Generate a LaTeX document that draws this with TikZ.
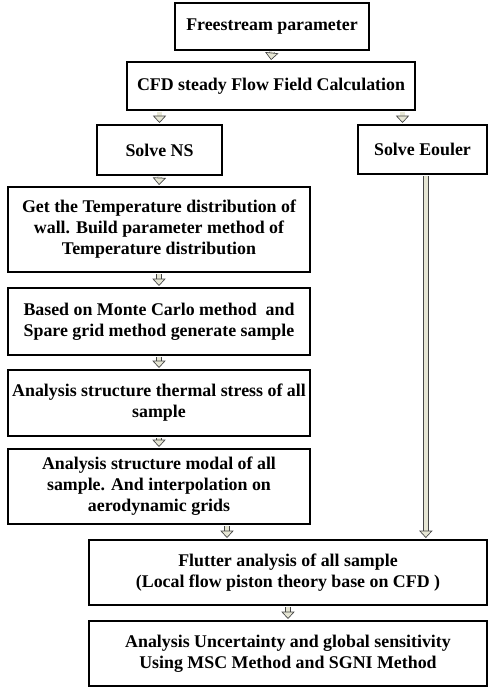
\documentclass[tikz,border=0pt]{standalone}
\usepackage{fontspec}
\setmainfont{Liberation Serif}
\usetikzlibrary{arrows.meta}
\definecolor{arrowfill}{RGB}{230,230,212}
\definecolor{arrowline}{RGB}{70,70,70}
\tikzset{every picture/.style={line width=0.75pt}}
\tikzset{
  flowbox/.style={draw=black, line width=1.5pt, align=center, inner sep=0pt,
    font=\fontsize{13.4}{15.75}\selectfont\bfseries},
  flowarrow/.style={draw=arrowline, line width=0.5pt, double=arrowfill, double distance=3.2pt,
    shorten <=0.75pt, shorten >=0.75pt,
    -{Triangle[length=5.5pt, width=10pt, fill=arrowfill, line width=0.5pt]}}
}
\begin{document}
\begin{tikzpicture}[x=0.75pt,y=0.75pt,yscale=-1,xscale=1]
\useasboundingbox (0,0) rectangle (488,688);

%Boxes
\node[flowbox, minimum width=145.5pt, minimum height=35.25pt] (free) at (272,26.5) {Freestream parameter};
\node[flowbox, minimum width=216pt, minimum height=36pt] (cfd) at (271,86) {CFD steady Flow Field Calculation};
\node[flowbox, minimum width=93.75pt, minimum height=37.5pt] (ns) at (159.5,150) {Solve NS};
\node[flowbox, minimum width=96.75pt, minimum height=36.75pt] (euler) at (422.5,149.5) {Solve Eouler};
\node[flowbox, minimum width=226.5pt, minimum height=63.75pt] (temp) at (159,229.5) {Get the Temperature distribution of\\wall. Build parameter method of\\Temperature distribution};
\node[flowbox, minimum width=226.5pt, minimum height=50.25pt] (sample) at (159,321.5) {Based on Monte Carlo method\ \ and\\Spare grid method generate sample};
\node[flowbox, minimum width=226.5pt, minimum height=49.5pt] (stress) at (159,403) {Analysis structure thermal stress of all\\sample};
\node[flowbox, minimum width=226.5pt, minimum height=56.25pt] (modal) at (159,486.5) {Analysis structure modal of all\\sample. And interpolation on\\aerodynamic grids};
\node[flowbox, minimum width=298.5pt, minimum height=48.75pt] (flutter) at (288,572.5) {Flutter analysis of all sample\\(Local flow piston theory base on CFD )};
\node[flowbox, minimum width=298.5pt, minimum height=48.75pt] (uncert) at (288,653.5) {Analysis Uncertainty and global sensitivity\\Using MSC Method and SGNI Method};

%Arrows
\draw[flowarrow] (free.south) -- (cfd.north);
\draw[flowarrow] (cfd.south -| ns.north) -- (ns.north);
\draw[flowarrow] ([xshift=-15pt]euler.north |- cfd.south) -- ([xshift=-15pt]euler.north);
\draw[flowarrow] (ns.south) -- (temp.north);
\draw[flowarrow] (temp.south) -- (sample.north);
\draw[flowarrow] (sample.south) -- (stress.north);
\draw[flowarrow] (stress.south) -- (modal.north);
\draw[flowarrow] ([xshift=51pt]modal.south) -- ([xshift=51pt]modal.south |- flutter.north);
\draw[flowarrow] ([xshift=2.5pt]euler.south) -- ([xshift=2.5pt]euler.south |- flutter.north);
\draw[flowarrow] (flutter.south) -- (uncert.north);

\end{tikzpicture}
\end{document}
